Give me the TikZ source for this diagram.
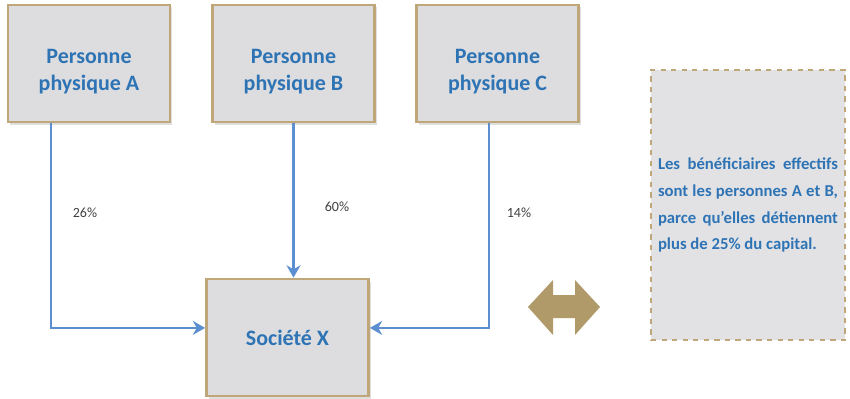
\documentclass[tikz,border=0pt]{standalone}
\usepackage{fontspec}
\setmainfont{Carlito}
\usepackage{tikz}
\usetikzlibrary{arrows.meta,positioning,calc,shadows}
\definecolor{boxfill}{RGB}{221,221,224}
\definecolor{boxline}{RGB}{192,167,122}
\definecolor{textblue}{RGB}{46,116,181}
\definecolor{linkblue}{RGB}{91,143,208}
\definecolor{gold}{RGB}{176,154,106}

\begin{document}
\begin{tikzpicture}[person/.style={rectangle, draw=boxline, line width=1.6pt, fill=boxfill, minimum width=3.24cm, minimum height=2.34cm, text=textblue, font=\fontsize{12.5}{15.5}\selectfont\bfseries, align=center, drop shadow={opacity=0.25, shadow xshift=0.04cm, shadow yshift=-0.05cm}},
link/.style={draw=linkblue, line width=1.2pt, -{Stealth[length=7pt,width=8pt]}},
share/.style={text=black!75, font=\fontsize{8}{10}\selectfont}]
\useasboundingbox (0,0) rectangle (17,7.96);

\node [person] (A) at (1.78,6.69) {\rule{0pt}{0.6cm}Personne\\physique A};
\node [person] (B) at (5.87,6.69) {\rule{0pt}{0.6cm}Personne\\physique B};
\node [person] (C) at (9.95,6.69) {\rule{0pt}{0.6cm}Personne\\physique C};

\node [person] (X) at (5.75,1.21) {Soci\'et\'e X};

\coordinate (Xin) at ($(X.north west)!0.42!(X.south west)$);
\coordinate (Xout) at ($(X.north east)!0.42!(X.south east)$);

\draw [link] ($(A.south west)!0.27!(A.south east)$) |- (Xin);
\draw [link] (B.south) -- (B.south |- X.north);
\draw [link] ($(C.south west)!0.45!(C.south east)$) |- (Xout);

\node [share] (pA) at (1.7,3.7) {26\%};
\node [share] (pB) at (6.74,3.82) {60\%};
\node [share] (pC) at (10.38,3.7) {14\%};

% double arrow
\fill [gold] (10.56,1.82) -- (11.06,2.36) -- (11.06,2.06) -- (11.5,2.06) -- (11.5,2.36) -- (12,1.82)
  -- (11.5,1.26) -- (11.5,1.6) -- (11.06,1.6) -- (11.06,1.26) -- cycle;

\node [rectangle, draw=boxline, dashed, line width=1.2pt, fill=boxfill!85!white, minimum width=3.88cm, minimum height=5.4cm, text=textblue, text width=3.6cm, align=justify, font=\fontsize{9.5}{15.3}\selectfont\bfseries] (note) at (14.96,3.86) {Les b\'en\'eficiaires effectifs sont les personnes A et B, parce qu'elles d\'etiennent plus de 25\% du capital.};

\end{tikzpicture}
\end{document}
